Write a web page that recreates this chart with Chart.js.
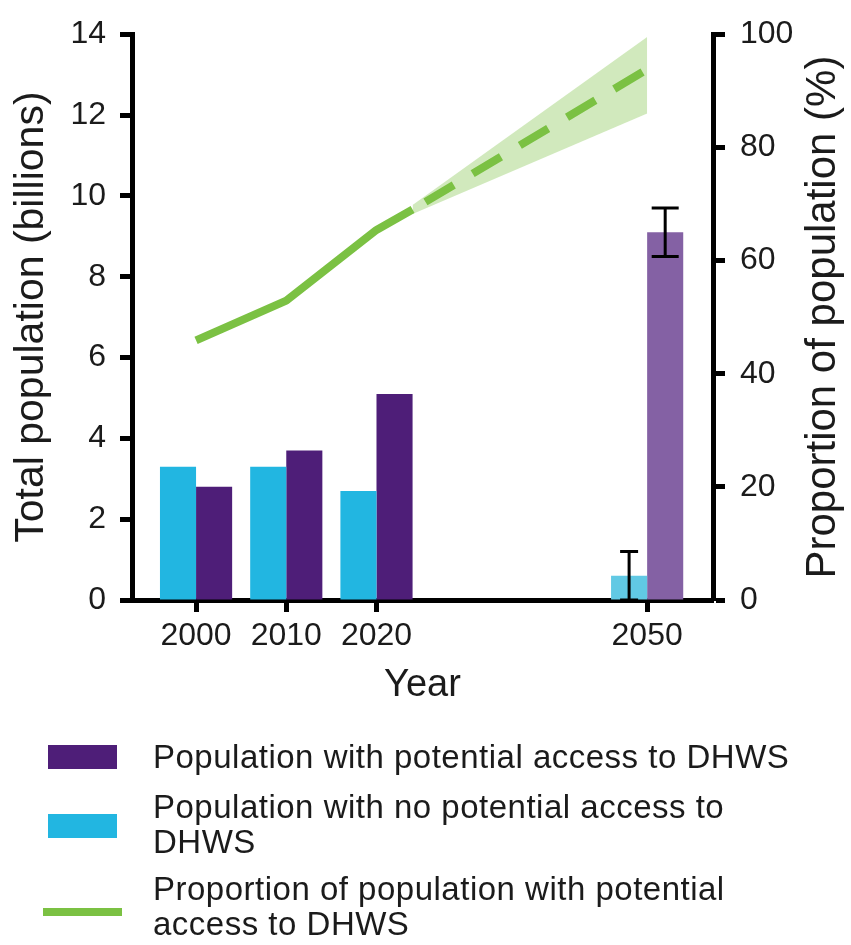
<!DOCTYPE html>
<html>
<head>
<meta charset="utf-8">
<script src="https://cdn.jsdelivr.net/npm/chart.js@4.4.1/dist/chart.umd.min.js"></script>
<style>
  html, body { margin: 0; padding: 0; background: #ffffff; }
  canvas { display: block; }
</style>
</head>
<body>
<canvas id="chart" width="851" height="945"></canvas>
<script>
// ---- data ----
const years = [2000, 2010, 2020, 2050];
const noAccess = [3.3, 3.3, 2.7, 0.6];            // billions
const noAccessErr = [null, null, null, 0.6];
const withAccess = [2.8, 3.7, 5.1, 9.1];          // billions
const withAccessErr = [null, null, null, 0.6];

const shareYears = [2000, 2010, 2020, 2024];      // observed share (%)
const share = [45.9, 52.9, 65.4, 69.0];
const projYears = [2024, 2050];                   // projected share (%)
const projShare = [69.0, 93.8];
const projLow = [68.2, 86.0];
const projHigh = [69.8, 99.5];

const yearTicks = [2000, 2010, 2020, 2050];
const popTicks = [0, 2, 4, 6, 8, 10, 12, 14];
const shareTicks = [0, 20, 40, 60, 80, 100];

const legendEntries = [
  ["Population with potential access to DHWS"],
  ["Population with no potential access to", "DHWS"],
  ["Proportion of population with potential", "access to DHWS"]
];

// ---- styling ----
const FONT = "'Liberation Sans', Arial, Helvetica, sans-serif";
const INK = '#1b1b1b';
const CYAN = '#22b6e1', CYAN_PROJ = '#61c9e4';
const PURPLE = '#4e1e78', PURPLE_PROJ = '#8461a4';
const GREEN = '#7bc143', GREEN_BAND = 'rgba(123,193,67,0.35)';

const pts = (xs, ys) => xs.map((x, i) => ({ x: x, y: ys[i] }));

// error whiskers on bars
const errorBars = {
  id: 'errorBars',
  afterDatasetsDraw(chart) {
    const ctx = chart.ctx;
    chart.data.datasets.forEach((ds, di) => {
      if (!ds.errors) return;
      const meta = chart.getDatasetMeta(di);
      const ys = chart.scales[ds.yAxisID];
      meta.data.forEach((bar, i) => {
        const e = ds.errors[i];
        if (e == null) return;
        const v = ds.data[i].y;
        const yTop = ys.getPixelForValue(v + e);
        const yBot = ys.getPixelForValue(Math.max(0, v - e));
        const half = ds.capWidth / 2;
        ctx.save();
        ctx.strokeStyle = '#000';
        ctx.lineWidth = 3;
        ctx.beginPath();
        ctx.moveTo(bar.x, yTop); ctx.lineTo(bar.x, yBot);
        ctx.moveTo(bar.x - half, yTop); ctx.lineTo(bar.x + half, yTop);
        ctx.moveTo(bar.x - half, yBot); ctx.lineTo(bar.x + half, yBot);
        ctx.stroke();
        ctx.restore();
      });
    });
  }
};

// right-hand axis title, reading bottom to top
const rightTitle = {
  id: 'rightTitle',
  afterDraw(chart) {
    const ctx = chart.ctx, a = chart.chartArea, s = chart.scales.y1;
    ctx.save();
    ctx.translate(s.right - 28, (a.top + a.bottom) / 2);
    ctx.rotate(-Math.PI / 2);
    ctx.font = `42px ${FONT}`;
    ctx.fillStyle = INK;
    ctx.textAlign = 'center';
    ctx.textBaseline = 'middle';
    ctx.fillText('Proportion of population (%)', 0, 0);
    ctx.restore();
  }
};

// legend stacked under the plot
const bottomLegend = {
  id: 'bottomLegend',
  afterDraw(chart) {
    const ctx = chart.ctx;
    const swatchX = 48, swatchW = 69, textX = 153, lineH = 35;
    const rows = [
      { kind: 'box', color: PURPLE, centre: 757, baseline: 768 },
      { kind: 'box', color: CYAN, centre: 826, baseline: 818 },
      { kind: 'line', color: GREEN, centre: 912, baseline: 900 }
    ];
    ctx.save();
    ctx.font = `33px ${FONT}`;
    if ('letterSpacing' in ctx) ctx.letterSpacing = '0.5px';
    ctx.textBaseline = 'alphabetic';
    rows.forEach((r, i) => {
      ctx.fillStyle = r.color;
      if (r.kind === 'box') {
        ctx.fillRect(swatchX, r.centre - 12, swatchW, 24);
      } else {
        ctx.fillRect(swatchX - 5, r.centre - 4, swatchW + 10, 8);
      }
      ctx.fillStyle = INK;
      legendEntries[i].forEach((t, k) => ctx.fillText(t, textX, r.baseline + k * lineH));
    });
    ctx.restore();
  }
};

const axisGrid = { drawOnChartArea: false, drawTicks: true, tickLength: 12, tickWidth: 5, tickColor: '#000', offset: false };
const axisBorder = { display: true, width: 5, color: '#000' };
const tickFont = { family: FONT, size: 32 };

new Chart(document.getElementById('chart'), {
  data: {
    datasets: [
      {
        type: 'line', label: 'Proportion of population with potential access to DHWS',
        data: pts(shareYears, share), yAxisID: 'y1', order: 0,
        borderColor: GREEN, borderWidth: 8, pointRadius: 0, tension: 0,
        borderCapStyle: 'butt', borderJoinStyle: 'round', fill: false
      },
      {
        type: 'line', label: 'Projected proportion',
        data: pts(projYears, projShare), yAxisID: 'y1', order: 1,
        borderColor: GREEN, borderWidth: 8, pointRadius: 0, tension: 0,
        borderDash: [33, 22], borderDashOffset: 40, borderCapStyle: 'butt', fill: false
      },
      {
        type: 'line', label: 'Projection low',
        data: pts(projYears, projLow), yAxisID: 'y1', order: 2,
        borderWidth: 0, pointRadius: 0, fill: false
      },
      {
        type: 'line', label: 'Projection high',
        data: pts(projYears, projHigh), yAxisID: 'y1', order: 2,
        borderWidth: 0, pointRadius: 0, fill: '-1', backgroundColor: GREEN_BAND
      },
      {
        type: 'bar', label: 'Population with no potential access to DHWS',
        data: pts(years, noAccess), yAxisID: 'y', order: 3,
        backgroundColor: years.map(y => y > 2020 ? CYAN_PROJ : CYAN),
        borderWidth: 0, errors: noAccessErr, capWidth: 18
      },
      {
        type: 'bar', label: 'Population with potential access to DHWS',
        data: pts(years, withAccess), yAxisID: 'y', order: 4,
        backgroundColor: years.map(y => y > 2020 ? PURPLE_PROJ : PURPLE),
        borderWidth: 0, errors: withAccessErr, capWidth: 27
      }
    ]
  },
  options: {
    responsive: false,
    animation: false,
    categoryPercentage: 0.8,
    barPercentage: 1.0,
    layout: { padding: { top: 24, left: 0, right: 0, bottom: 235 } },
    plugins: { legend: { display: false }, tooltip: { enabled: false } },
    scales: {
      x: {
        type: 'linear', min: 1992.9, max: 2057.3, offset: false,
        grid: axisGrid, border: axisBorder,
        afterBuildTicks: s => { s.ticks = yearTicks.map(v => ({ value: v })); },
        afterFit: s => { s.height = 110; },
        ticks: { font: tickFont, color: INK, padding: 5, maxRotation: 0, autoSkip: false,
                 callback: v => String(v) },
        title: { display: true, text: 'Year', color: INK,
                 font: { family: FONT, size: 38 }, padding: { top: 0, bottom: 2 } }
      },
      y: {
        type: 'linear', position: 'left', min: 0, max: 14,
        grid: axisGrid, border: axisBorder,
        afterBuildTicks: s => { s.ticks = popTicks.map(v => ({ value: v })); },
        afterFit: s => { s.width = 132; },
        ticks: { font: tickFont, color: INK, padding: 14, callback: v => String(v) },
        title: { display: true, text: 'Total population (billions)', color: INK,
                 font: { family: FONT, size: 41 }, padding: { top: 7, bottom: 0 } }
      },
      y1: {
        type: 'linear', position: 'right', min: 0, max: 100,
        grid: axisGrid, border: axisBorder,
        afterBuildTicks: s => { s.ticks = shareTicks.map(v => ({ value: v })); },
        afterFit: s => { s.width = 138; },
        ticks: { font: tickFont, color: INK, padding: 15, callback: v => String(v) }
      }
    }
  },
  plugins: [errorBars, rightTitle, bottomLegend]
});
</script>
</body>
</html>
